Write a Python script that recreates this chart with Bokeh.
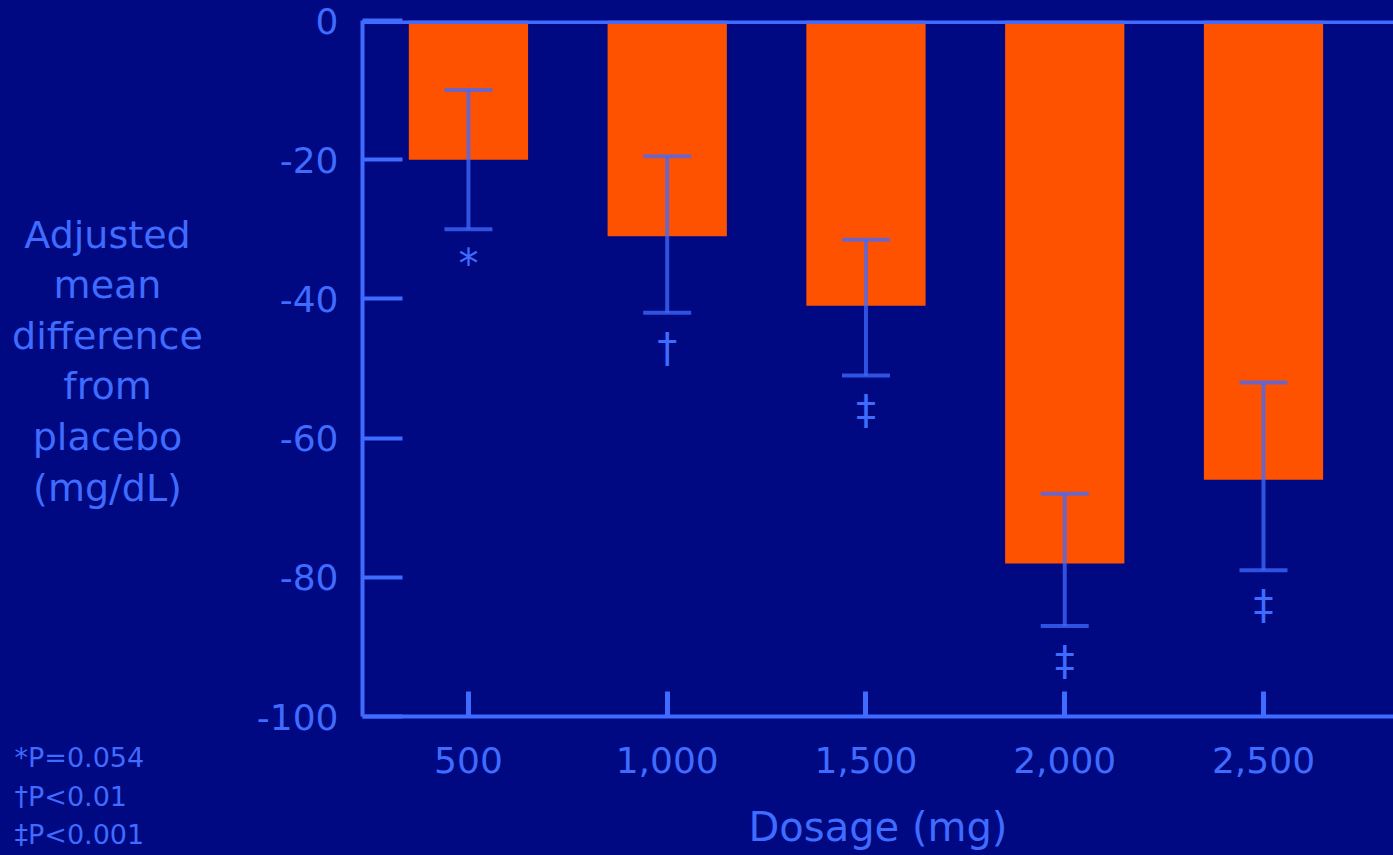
from bokeh.plotting import figure
from bokeh.layouts import row
from bokeh.models import ColumnDataSource, FixedTicker, Span, Whisker, TeeHead
from bokeh.embed import file_html
from bokeh.resources import INLINE
from bokeh.core.properties import value

# ---- data ----
dosages = ["500", "1,000", "1,500", "2,000", "2,500"]
mean_diff = [-20, -31, -41, -78, -66]
ci_upper = [-10, -19.5, -31.5, -68, -52]
ci_lower = [-30, -42, -51, -87, -79]
sig_marks = ["*", "\u2020", "\u2021", "\u2021", "\u2021"]
y_ticks = [0, -20, -40, -60, -80, -100]
footnotes = ["*P=0.054", "\u2020P<0.01", "\u2021P<0.001"]
y_title_lines = ["Adjusted", "mean", "difference", "from", "placebo", "(mg/dL)"]
x_title = "Dosage (mg)"

BG = "#000882"
BLUE = "#3F6BFF"
ORANGE = "#FF5200"
FONT = "DejaVu Sans"

H = 855
LEFT_W = 230

# ---------- left panel: y-axis title and footnotes ----------
lp = figure(width=LEFT_W, height=H, x_range=(0, LEFT_W), y_range=(H, 0),
            output_backend="svg", toolbar_location=None,
            min_border=0, min_border_left=0, min_border_right=0,
            min_border_top=0, min_border_bottom=0)
lp.frame_align = False
lp.axis.visible = False
lp.grid.visible = False
lp.outline_line_color = None
lp.background_fill_color = BG
lp.border_fill_color = BG

title_src = ColumnDataSource(dict(
    x=[107] * len(y_title_lines),
    y=[234 + 50.6 * i for i in range(len(y_title_lines))],
    t=y_title_lines))
lp.text(x="x", y="y", text="t", source=title_src, text_align="center",
        text_baseline="alphabetic", text_color=BLUE, text_font=value(FONT),
        text_font_size="38px")

foot_src = ColumnDataSource(dict(
    x=[14] * len(footnotes),
    y=[757 + 38.5 * i for i in range(len(footnotes))],
    t=footnotes))
lp.text(x="x", y="y", text="t", source=foot_src, text_align="left",
        text_baseline="alphabetic", text_color=BLUE, text_font=value(FONT),
        text_font_size="27px")

# ---------- main chart ----------
xs = [i + 1 for i in range(len(dosages))]
src = ColumnDataSource(dict(x=xs, mean=mean_diff, upper=ci_upper,
                            lower=ci_lower, mark=sig_marks))

p = figure(width=1393 - LEFT_W, height=H, x_range=(0.467, 5.654), y_range=(-100, 0),
           output_backend="svg", toolbar_location=None,
           min_border_left=362 - LEFT_W, min_border_right=0, min_border_top=20,
           min_border_bottom=139)
p.frame_align = False

p.background_fill_color = BG
p.border_fill_color = BG
p.outline_line_color = None
p.xgrid.grid_line_color = None
p.ygrid.grid_line_color = None

p.vbar(x="x", width=0.6, top=0, bottom="mean", source=src,
       fill_color=ORANGE, line_color=None)

head_kw = dict(size=48, line_color=BLUE, line_width=4, line_alpha=0.75)
w = Whisker(base="x", upper="upper", lower="lower", source=src, level="overlay",
            line_color=BLUE, line_width=4, line_alpha=0.75,
            upper_head=TeeHead(**head_kw), lower_head=TeeHead(**head_kw))
p.add_layout(w)

p.text(x="x", y="lower", text="mark", source=src, y_offset=12,
       text_align="center", text_baseline="top", text_color=BLUE,
       text_font_size="40px", text_font=value(FONT))

p.add_layout(Span(location=0, dimension="width", line_color=BLUE, line_width=7))

for ax in (p.xaxis, p.yaxis):
    ax.axis_line_color = BLUE
    ax.axis_line_width = 4
    ax.major_tick_line_color = BLUE
    ax.major_tick_line_width = 4
    ax.minor_tick_line_color = None
    ax.major_tick_out = 0
    ax.major_label_text_color = BLUE
    ax.major_label_text_font = FONT
    ax.major_label_text_font_size = "36px"
    ax.axis_label_text_color = BLUE
    ax.axis_label_text_font = FONT
    ax.axis_label_text_font_style = "normal"
    ax.axis_label_text_font_size = "40px"

p.yaxis.ticker = FixedTicker(ticks=y_ticks)
p.yaxis.major_label_overrides = {t: str(t) for t in y_ticks}
p.yaxis.major_tick_in = 40
p.yaxis.major_label_standoff = 24

p.xaxis.ticker = FixedTicker(ticks=xs)
p.xaxis.major_label_overrides = {x: d for x, d in zip(xs, dosages)}
p.xaxis.major_tick_in = 25
p.xaxis.major_tick_line_width = 5
p.xaxis.major_label_standoff = 30
p.xaxis.axis_label = x_title
p.xaxis.axis_label_standoff = 28

layout = row(lp, p)

html = file_html(layout, INLINE)
html = html.replace("<body>", '<body style="background-color:%s;">' % BG)
open("out.html", "w").write(html)
